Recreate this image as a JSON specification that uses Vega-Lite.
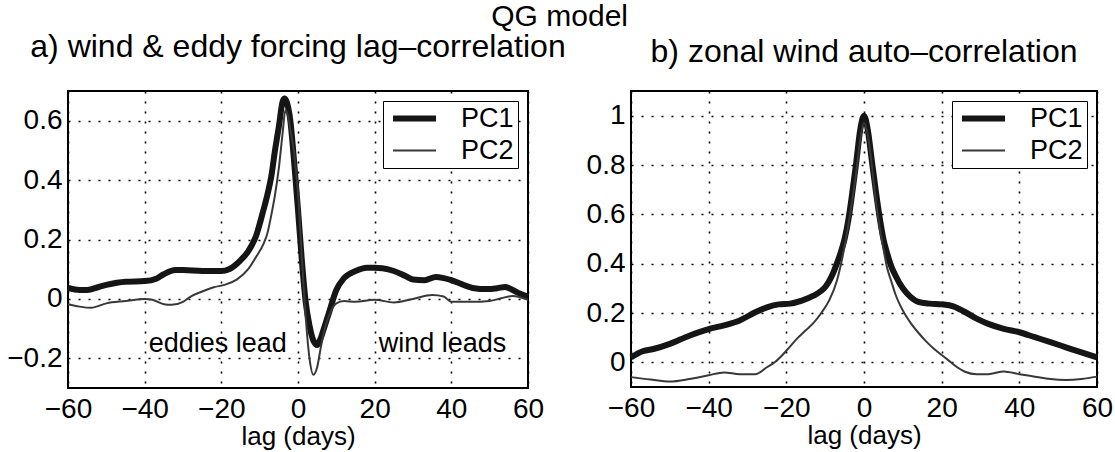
{
  "$schema": "https://vega.github.io/schema/vega-lite/v6.json",
  "padding": {"left": 5, "top": 2, "right": 5, "bottom": 1},
  "background": "white",
  "config": {
    "font": "Liberation Sans",
    "view": {"stroke": "black", "strokeWidth": 2},
    "axis": {"domain": false, "ticks": false, "grid": true, "gridColor": "black", "gridDash": [2, 8], "gridWidth": 1.6, "gridOpacity": 1, "labelFont": "Liberation Sans", "labelFontSize": 28, "labelColor": "black", "titleFont": "Liberation Sans", "titleFontSize": 26, "titleFontWeight": "normal", "titleColor": "black"},
    "axisX": {"labelPadding": 7, "titlePadding": 0, "labelFlush": false},
    "axisY": {"labelPadding": 6},
    "title": {"font": "Liberation Sans", "fontSize": 32, "fontWeight": "normal", "color": "black", "offset": 22},
    "legend": {"orient": "top-right", "offset": 10, "strokeColor": "black", "fillColor": "white", "padding": 4, "cornerRadius": 0, "labelFont": "Liberation Sans", "labelFontSize": 27, "labelColor": "black", "symbolType": "M-2.15,0L2.15,0", "symbolSize": 400, "symbolOffset": 14, "labelOffset": 33, "rowPadding": 4, "title": null}
  },
  "title": {"text": "QG model", "fontSize": 30, "anchor": "middle", "offset": -2},
  "datasets": {
    "a": [
      {"lag": -60, "series": "PC1", "r": 0.037}, {"lag": -57, "series": "PC1", "r": 0.03}, {"lag": -55, "series": "PC1", "r": 0.03}, {"lag": -52, "series": "PC1", "r": 0.04}, {"lag": -50, "series": "PC1", "r": 0.047}, {"lag": -45, "series": "PC1", "r": 0.058}, {"lag": -40, "series": "PC1", "r": 0.06}, {"lag": -37, "series": "PC1", "r": 0.068}, {"lag": -35, "series": "PC1", "r": 0.083}, {"lag": -32, "series": "PC1", "r": 0.097}, {"lag": -30, "series": "PC1", "r": 0.097}, {"lag": -25, "series": "PC1", "r": 0.094}, {"lag": -20, "series": "PC1", "r": 0.094}, {"lag": -18, "series": "PC1", "r": 0.1}, {"lag": -15, "series": "PC1", "r": 0.13}, {"lag": -13, "series": "PC1", "r": 0.16}, {"lag": -11, "series": "PC1", "r": 0.21}, {"lag": -9, "series": "PC1", "r": 0.3}, {"lag": -8, "series": "PC1", "r": 0.35}, {"lag": -7, "series": "PC1", "r": 0.41}, {"lag": -6, "series": "PC1", "r": 0.5}, {"lag": -5, "series": "PC1", "r": 0.58}, {"lag": -4, "series": "PC1", "r": 0.665}, {"lag": -3.5, "series": "PC1", "r": 0.675}, {"lag": -3, "series": "PC1", "r": 0.665}, {"lag": -2, "series": "PC1", "r": 0.6}, {"lag": -1, "series": "PC1", "r": 0.46}, {"lag": 0, "series": "PC1", "r": 0.3}, {"lag": 1, "series": "PC1", "r": 0.13}, {"lag": 2, "series": "PC1", "r": -0.01}, {"lag": 3, "series": "PC1", "r": -0.09}, {"lag": 4, "series": "PC1", "r": -0.14}, {"lag": 5, "series": "PC1", "r": -0.155}, {"lag": 6, "series": "PC1", "r": -0.13}, {"lag": 7, "series": "PC1", "r": -0.09}, {"lag": 8, "series": "PC1", "r": -0.05}, {"lag": 10, "series": "PC1", "r": 0.03}, {"lag": 12, "series": "PC1", "r": 0.07}, {"lag": 15, "series": "PC1", "r": 0.094}, {"lag": 18, "series": "PC1", "r": 0.105}, {"lag": 20, "series": "PC1", "r": 0.105}, {"lag": 22, "series": "PC1", "r": 0.103}, {"lag": 25, "series": "PC1", "r": 0.094}, {"lag": 28, "series": "PC1", "r": 0.077}, {"lag": 30, "series": "PC1", "r": 0.065}, {"lag": 33, "series": "PC1", "r": 0.063}, {"lag": 36, "series": "PC1", "r": 0.074}, {"lag": 38, "series": "PC1", "r": 0.07}, {"lag": 40, "series": "PC1", "r": 0.063}, {"lag": 43, "series": "PC1", "r": 0.048}, {"lag": 46, "series": "PC1", "r": 0.036}, {"lag": 49, "series": "PC1", "r": 0.033}, {"lag": 52, "series": "PC1", "r": 0.036}, {"lag": 54, "series": "PC1", "r": 0.04}, {"lag": 56, "series": "PC1", "r": 0.03}, {"lag": 58, "series": "PC1", "r": 0.017}, {"lag": 60, "series": "PC1", "r": 0.008},
      {"lag": -60, "series": "PC2", "r": -0.018}, {"lag": -57, "series": "PC2", "r": -0.026}, {"lag": -54, "series": "PC2", "r": -0.03}, {"lag": -50, "series": "PC2", "r": -0.015}, {"lag": -45, "series": "PC2", "r": -0.007}, {"lag": -40, "series": "PC2", "r": 0.0}, {"lag": -38, "series": "PC2", "r": -0.003}, {"lag": -35, "series": "PC2", "r": -0.018}, {"lag": -33, "series": "PC2", "r": -0.02}, {"lag": -30, "series": "PC2", "r": -0.01}, {"lag": -28, "series": "PC2", "r": 0.008}, {"lag": -25, "series": "PC2", "r": 0.025}, {"lag": -22, "series": "PC2", "r": 0.039}, {"lag": -19, "series": "PC2", "r": 0.048}, {"lag": -16, "series": "PC2", "r": 0.065}, {"lag": -13, "series": "PC2", "r": 0.1}, {"lag": -11, "series": "PC2", "r": 0.14}, {"lag": -9, "series": "PC2", "r": 0.185}, {"lag": -8, "series": "PC2", "r": 0.22}, {"lag": -7, "series": "PC2", "r": 0.28}, {"lag": -6, "series": "PC2", "r": 0.35}, {"lag": -5, "series": "PC2", "r": 0.44}, {"lag": -4, "series": "PC2", "r": 0.56}, {"lag": -3.3, "series": "PC2", "r": 0.635}, {"lag": -2.5, "series": "PC2", "r": 0.61}, {"lag": -2, "series": "PC2", "r": 0.57}, {"lag": -1, "series": "PC2", "r": 0.49}, {"lag": 0, "series": "PC2", "r": 0.36}, {"lag": 1, "series": "PC2", "r": 0.14}, {"lag": 2, "series": "PC2", "r": -0.06}, {"lag": 3, "series": "PC2", "r": -0.2}, {"lag": 4, "series": "PC2", "r": -0.255}, {"lag": 5, "series": "PC2", "r": -0.23}, {"lag": 6, "series": "PC2", "r": -0.16}, {"lag": 7, "series": "PC2", "r": -0.1}, {"lag": 8, "series": "PC2", "r": -0.06}, {"lag": 10, "series": "PC2", "r": -0.015}, {"lag": 12, "series": "PC2", "r": -0.007}, {"lag": 15, "series": "PC2", "r": -0.01}, {"lag": 20, "series": "PC2", "r": -0.003}, {"lag": 25, "series": "PC2", "r": -0.012}, {"lag": 30, "series": "PC2", "r": 0.0}, {"lag": 35, "series": "PC2", "r": 0.013}, {"lag": 38, "series": "PC2", "r": 0.008}, {"lag": 40, "series": "PC2", "r": -0.01}, {"lag": 45, "series": "PC2", "r": -0.01}, {"lag": 50, "series": "PC2", "r": -0.007}, {"lag": 53, "series": "PC2", "r": 0.002}, {"lag": 56, "series": "PC2", "r": 0.01}, {"lag": 60, "series": "PC2", "r": -0.003}
    ],
    "b": [
      {"lag": -60, "series": "PC1", "r": 0.02}, {"lag": -57, "series": "PC1", "r": 0.045}, {"lag": -54, "series": "PC1", "r": 0.055}, {"lag": -50, "series": "PC1", "r": 0.075}, {"lag": -45, "series": "PC1", "r": 0.108}, {"lag": -40, "series": "PC1", "r": 0.135}, {"lag": -36, "series": "PC1", "r": 0.15}, {"lag": -32, "series": "PC1", "r": 0.17}, {"lag": -28, "series": "PC1", "r": 0.203}, {"lag": -25, "series": "PC1", "r": 0.223}, {"lag": -22, "series": "PC1", "r": 0.235}, {"lag": -19, "series": "PC1", "r": 0.238}, {"lag": -16, "series": "PC1", "r": 0.25}, {"lag": -13, "series": "PC1", "r": 0.27}, {"lag": -11, "series": "PC1", "r": 0.29}, {"lag": -10, "series": "PC1", "r": 0.305}, {"lag": -8, "series": "PC1", "r": 0.36}, {"lag": -7, "series": "PC1", "r": 0.4}, {"lag": -6, "series": "PC1", "r": 0.445}, {"lag": -5, "series": "PC1", "r": 0.5}, {"lag": -4, "series": "PC1", "r": 0.58}, {"lag": -3, "series": "PC1", "r": 0.69}, {"lag": -2, "series": "PC1", "r": 0.81}, {"lag": -1, "series": "PC1", "r": 0.94}, {"lag": 0, "series": "PC1", "r": 1.0}, {"lag": 1, "series": "PC1", "r": 0.94}, {"lag": 2, "series": "PC1", "r": 0.82}, {"lag": 3, "series": "PC1", "r": 0.7}, {"lag": 4, "series": "PC1", "r": 0.59}, {"lag": 5, "series": "PC1", "r": 0.5}, {"lag": 6, "series": "PC1", "r": 0.44}, {"lag": 7, "series": "PC1", "r": 0.39}, {"lag": 8, "series": "PC1", "r": 0.355}, {"lag": 10, "series": "PC1", "r": 0.3}, {"lag": 12, "series": "PC1", "r": 0.265}, {"lag": 14, "series": "PC1", "r": 0.245}, {"lag": 17, "series": "PC1", "r": 0.238}, {"lag": 20, "series": "PC1", "r": 0.235}, {"lag": 23, "series": "PC1", "r": 0.227}, {"lag": 26, "series": "PC1", "r": 0.204}, {"lag": 29, "series": "PC1", "r": 0.177}, {"lag": 32, "series": "PC1", "r": 0.156}, {"lag": 36, "series": "PC1", "r": 0.136}, {"lag": 40, "series": "PC1", "r": 0.122}, {"lag": 44, "series": "PC1", "r": 0.102}, {"lag": 48, "series": "PC1", "r": 0.082}, {"lag": 52, "series": "PC1", "r": 0.061}, {"lag": 56, "series": "PC1", "r": 0.04}, {"lag": 60, "series": "PC1", "r": 0.02},
      {"lag": -60, "series": "PC2", "r": -0.06}, {"lag": -55, "series": "PC2", "r": -0.07}, {"lag": -50, "series": "PC2", "r": -0.078}, {"lag": -45, "series": "PC2", "r": -0.068}, {"lag": -40, "series": "PC2", "r": -0.052}, {"lag": -36, "series": "PC2", "r": -0.041}, {"lag": -32, "series": "PC2", "r": -0.048}, {"lag": -28, "series": "PC2", "r": -0.048}, {"lag": -25, "series": "PC2", "r": -0.02}, {"lag": -23, "series": "PC2", "r": 0.0}, {"lag": -21, "series": "PC2", "r": 0.03}, {"lag": -19, "series": "PC2", "r": 0.065}, {"lag": -17, "series": "PC2", "r": 0.1}, {"lag": -15, "series": "PC2", "r": 0.13}, {"lag": -13, "series": "PC2", "r": 0.16}, {"lag": -11, "series": "PC2", "r": 0.2}, {"lag": -9, "series": "PC2", "r": 0.25}, {"lag": -7, "series": "PC2", "r": 0.33}, {"lag": -5.5, "series": "PC2", "r": 0.43}, {"lag": -4, "series": "PC2", "r": 0.56}, {"lag": -3, "series": "PC2", "r": 0.66}, {"lag": -2, "series": "PC2", "r": 0.77}, {"lag": -1, "series": "PC2", "r": 0.9}, {"lag": 0, "series": "PC2", "r": 0.97}, {"lag": 1, "series": "PC2", "r": 0.92}, {"lag": 2, "series": "PC2", "r": 0.8}, {"lag": 3, "series": "PC2", "r": 0.66}, {"lag": 4, "series": "PC2", "r": 0.55}, {"lag": 5, "series": "PC2", "r": 0.46}, {"lag": 6, "series": "PC2", "r": 0.38}, {"lag": 7, "series": "PC2", "r": 0.33}, {"lag": 8, "series": "PC2", "r": 0.28}, {"lag": 10, "series": "PC2", "r": 0.21}, {"lag": 12, "series": "PC2", "r": 0.16}, {"lag": 14, "series": "PC2", "r": 0.12}, {"lag": 16, "series": "PC2", "r": 0.085}, {"lag": 18, "series": "PC2", "r": 0.055}, {"lag": 20, "series": "PC2", "r": 0.03}, {"lag": 22, "series": "PC2", "r": 0.005}, {"lag": 24, "series": "PC2", "r": -0.02}, {"lag": 26, "series": "PC2", "r": -0.038}, {"lag": 29, "series": "PC2", "r": -0.048}, {"lag": 32, "series": "PC2", "r": -0.048}, {"lag": 36, "series": "PC2", "r": -0.037}, {"lag": 40, "series": "PC2", "r": -0.048}, {"lag": 44, "series": "PC2", "r": -0.058}, {"lag": 48, "series": "PC2", "r": -0.068}, {"lag": 52, "series": "PC2", "r": -0.072}, {"lag": 56, "series": "PC2", "r": -0.068}, {"lag": 60, "series": "PC2", "r": -0.058}
    ]
  },
  "bounds": "flush",
  "spacing": 103,
  "resolve": {"scale": {"x": "independent", "y": "independent", "color": "independent", "strokeWidth": "independent"}, "legend": {"color": "independent", "strokeWidth": "independent"}},
  "hconcat": [
    {
      "width": 460, "height": 297,
      "title": {"text": "a) wind & eddy forcing lag–correlation"},
      "layer": [
        {"mark": {"type": "rule", "color": "black", "strokeWidth": 1.6, "strokeDash": [14, 5, 2, 5]}, "encoding": {"y": {"datum": 0, "type": "quantitative", "scale": {"domain": [-0.3, 0.7], "nice": false, "zero": false}}}},
        {"data": {"name": "a"}, "mark": {"type": "line", "interpolate": "monotone"},
         "encoding": {
           "x": {"field": "lag", "type": "quantitative", "scale": {"domain": [-60, 60], "nice": false, "zero": false}, "axis": {"values": [-60, -40, -20, 0, 20, 40, 60], "title": "lag (days)", "format": "d"}},
           "y": {"field": "r", "type": "quantitative", "scale": {"domain": [-0.3, 0.7], "nice": false, "zero": false}, "axis": {"values": [-0.2, 0, 0.2, 0.4, 0.6], "title": null, "format": "~g"}},
           "color": {"field": "series", "type": "nominal", "scale": {"domain": ["PC1", "PC2"], "range": ["#151515", "#383838"]}},
           "strokeWidth": {"field": "series", "type": "nominal", "scale": {"domain": ["PC1", "PC2"], "range": [6, 2]}}
         }},
        {"data": {"values": [{"note": "eddies lead"}]}, "mark": {"type": "text", "align": "left", "baseline": "alphabetic", "dx": 4, "fontSize": 27, "color": "black"}, "encoding": {"text": {"field": "note"}, "x": {"datum": -40, "type": "quantitative"}, "y": {"datum": -0.18, "type": "quantitative"}}},
        {"data": {"values": [{"note": "wind leads"}]}, "mark": {"type": "text", "align": "left", "baseline": "alphabetic", "dx": 4, "fontSize": 27, "color": "black"}, "encoding": {"text": {"field": "note"}, "x": {"datum": 20, "type": "quantitative"}, "y": {"datum": -0.18, "type": "quantitative"}}}
      ]
    },
    {
      "width": 466, "height": 296,
      "title": {"text": "b) zonal wind auto–correlation"},
      "layer": [
        {"mark": {"type": "rule", "color": "black", "strokeWidth": 1.6, "strokeDash": [14, 5, 2, 5]}, "encoding": {"y": {"datum": 0, "type": "quantitative", "scale": {"domain": [-0.1, 1.1], "nice": false, "zero": false}}}},
        {"data": {"name": "b"}, "mark": {"type": "line", "interpolate": "monotone"},
         "encoding": {
           "x": {"field": "lag", "type": "quantitative", "scale": {"domain": [-60, 60], "nice": false, "zero": false}, "axis": {"values": [-60, -40, -20, 0, 20, 40, 60], "title": "lag (days)", "format": "d"}},
           "y": {"field": "r", "type": "quantitative", "scale": {"domain": [-0.1, 1.1], "nice": false, "zero": false}, "axis": {"values": [0, 0.2, 0.4, 0.6, 0.8, 1], "title": null, "format": "~g"}},
           "color": {"field": "series", "type": "nominal", "scale": {"domain": ["PC1", "PC2"], "range": ["#151515", "#383838"]}},
           "strokeWidth": {"field": "series", "type": "nominal", "scale": {"domain": ["PC1", "PC2"], "range": [6, 2]}}
         }}
      ]
    }
  ]
}
